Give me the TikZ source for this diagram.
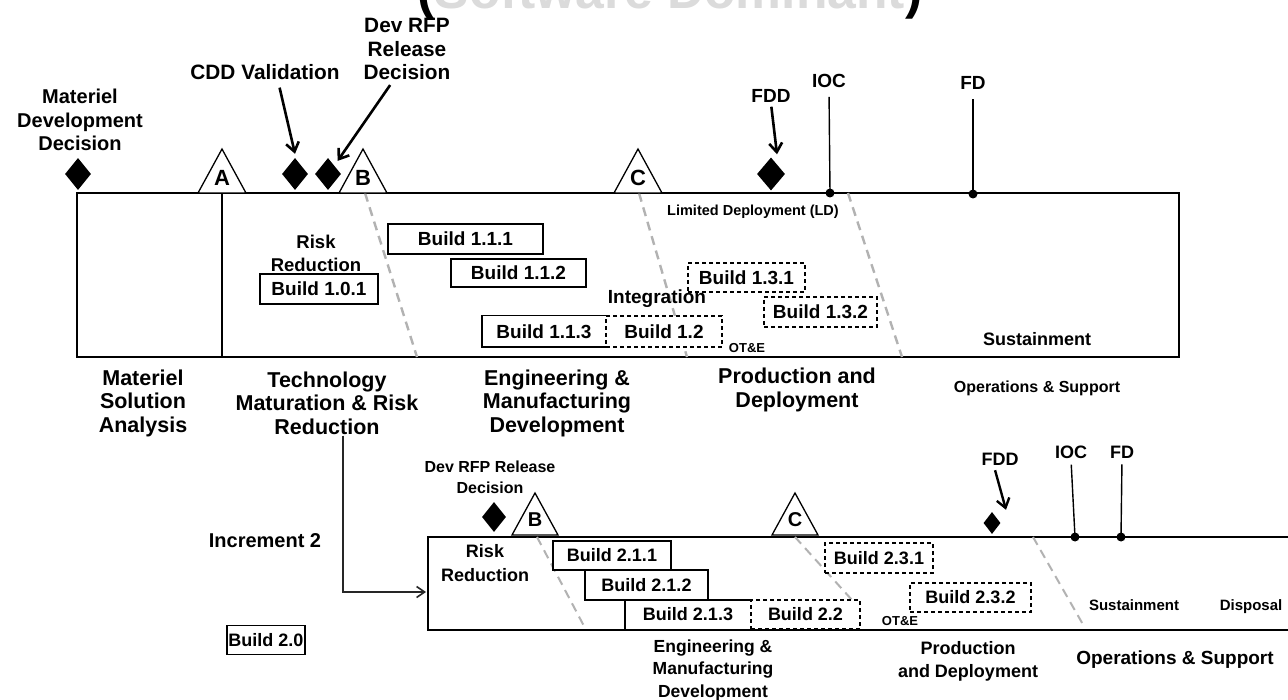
\documentclass[tikz,border=0pt]{standalone}
\usepackage{fontspec}
\setmainfont{Liberation Sans}
\usetikzlibrary{arrows.meta,shapes.geometric}
\newcommand{\mytri}[4]{\draw[tri] (#1-#3,#2) -- (#1,#2-#4) -- (#1+#3,#2) -- cycle;}
\begin{document}
\begin{tikzpicture}[x=1pt,y=-1pt,
  lab/.style={font=\bfseries\fontsize{20}{23.5}\selectfont, align=center, inner sep=1pt},
  phlab/.style={font=\bfseries\fontsize{21.5}{23.5}\selectfont, align=center, inner sep=1pt},
  labm/.style={font=\bfseries\fontsize{18}{22.5}\selectfont, align=center, inner sep=1pt},
  labs/.style={font=\bfseries\fontsize{15}{18}\selectfont, align=center, inner sep=1pt},
  bx/.style={draw, fill=white, line width=1.4pt, font=\bfseries\fontsize{19}{22}\selectfont, inner sep=0pt},
  dbx/.style={bx, dash pattern=on 4pt off 3pt},
  lbx/.style={bx, font=\bfseries\fontsize{18}{21}\selectfont},
  ldbx/.style={lbx, dash pattern=on 4pt off 3pt},
  mainframe/.style={line width=2.6pt},
  phaseline/.style={draw=gray!60, line width=2.4pt, dash pattern=on 9pt off 6pt},
  tri/.style={draw, fill=white, line width=1.3pt, line join=miter},
  trilet/.style={font=\bfseries\fontsize{22}{24}\selectfont, inner sep=0pt},
  dia/.style={diamond, fill=black, inner sep=0pt, minimum width=26pt, minimum height=32pt},
  mdot/.style={circle, fill=black, inner sep=0pt, minimum size=9pt},
  arr/.style={line width=2.6pt, -{Straight Barb[length=9pt,width=13pt]}},
  arrtwo/.style={line width=1.6pt, draw=black!85, -{Straight Barb[length=8pt,width=11pt]}},
  mline/.style={line width=1.4pt}
]
\useasboundingbox (0,0) rectangle (1288,700);
\clip (0,0) rectangle (1288,700);
\fill[white] (0,0) rectangle (1288,700);

% title (clipped at top)
\node[anchor=base, inner sep=0pt, font=\bfseries\fontsize{51.6}{60}\selectfont] (title) at (670,9)
  {(\textcolor{gray!28}{Software Dominant})};

% ===== Increment 1 =====
\draw[mainframe] (77,193) rectangle (1179,357);
\draw[line width=1.3pt] (222,193) -- (222,357);

\draw[phaseline] (365,193) -- (417,357);
\draw[phaseline] (639,193) -- (687,357);
\draw[phaseline] (848,193) -- (902,357);

\mytri{222}{193}{24}{44}
\node[trilet] (ta) at (222,178) {A};
\mytri{363}{193}{24}{44}
\node[trilet] (tb) at (363,178) {B};
\mytri{638}{193}{24}{44}
\node[trilet] (tc) at (638,178) {C};

\node[lab] (mddtxt) at (80,120) {Materiel\\Development\\Decision};
\node[dia] (mdd) at (78,174) {};
\node[lab, font=\bfseries\fontsize{20.8}{23.5}\selectfont] (cddtxt) at (265,72) {CDD Validation};
\node[dia] (cdd) at (295,174) {};
\node[dia] (dev) at (328,174) {};
\node[lab, font=\bfseries\fontsize{20.8}{23.5}\selectfont] (devtxt) at (407,49) {Dev RFP\\Release\\Decision};
\draw[arr, shorten <=7pt] ([xshift=13pt]cddtxt.south) -- ([yshift=4pt]cdd.north);
\draw[arr, shorten <=5pt] ([xshift=-14pt]devtxt.south) -- ([xshift=3pt,yshift=5pt]dev.north east);

\node[lab, font=\bfseries\fontsize{19}{22}\selectfont] (fddtxt) at (771,96) {FDD};
\node[dia, minimum width=28pt, minimum height=33pt] (fdd) at (771,174) {};
\draw[arr, shorten <=3pt] (fddtxt.south) -- ([xshift=6pt,yshift=3pt]fdd.north);

\node[lab, font=\bfseries\fontsize{19}{22}\selectfont] (ioctxt) at (829,81) {IOC};
\node[mdot] (iocdot) at (830,193) {};
\draw[mline, shorten >=8pt] (iocdot.center) -- (ioctxt.south);
\node[lab, font=\bfseries\fontsize{19}{22}\selectfont] (fdtxt) at (973,83) {FD};
\node[mdot] (fddot) at (973,194) {};
\draw[mline, shorten >=8pt] (fddot.center) -- (fdtxt.south);

\node[labs, font=\bfseries\fontsize{14.5}{17}\selectfont] (ldtxt) at (753,212) {Limited Deployment (LD)};

\node[labm, font=\bfseries\fontsize{18.5}{23}\selectfont] (rr1) at (316,253) {Risk\\Reduction};
\node[bx, minimum width=118pt, minimum height=30pt] (b101) at (319,289) {Build 1.0.1};
\node[bx, minimum width=155pt, minimum height=30pt] (b111) at (465.5,239) {Build 1.1.1};
\node[bx, minimum width=135pt, minimum height=28pt] (b112) at (518.5,273) {Build 1.1.2};
\node[inner sep=0pt, fill=white, minimum width=124pt, minimum height=31pt, font=\bfseries\fontsize{19}{22}\selectfont] (b113) at (544,331.5) {Build 1.1.3};
\draw[line width=1.4pt] (b113.north east) -- (b113.north west) -- (b113.south west) -- (b113.south east);
\node[dbx, minimum width=116pt, minimum height=31pt] (b12) at (664,331.5) {Build 1.2};
\node[lab, font=\bfseries\fontsize{19}{22}\selectfont] (integ) at (657,299) {Integration};
\node[labs, font=\bfseries\fontsize{13}{15}\selectfont] (ote1) at (747,348) {OT\&E};
\node[dbx, minimum width=117pt, minimum height=29pt] (b131) at (746.5,277.5) {Build 1.3.1};
\node[dbx, minimum width=113pt, minimum height=30pt] (b132) at (820.5,312) {Build 1.3.2};
\node[lab, font=\bfseries\fontsize{18}{22}\selectfont] (sus1) at (1037,339) {Sustainment};

% phase labels under increment 1
\node[phlab] (msa) at (143,403) {Materiel\\Solution\\Analysis};
\node[phlab] (techtxt) at (327,403) {Technology\\Maturation \& Risk\\Reduction};
\node[phlab] (emd1) at (557,403) {Engineering \&\\Manufacturing\\Development};
\node[phlab] (pd1) at (797,390) {Production and\\Deployment};
\node[lab, font=\bfseries\fontsize{16}{19}\selectfont] (os1) at (1037,388) {Operations \& Support};

% ===== Increment 2 =====
\node[lab] (inc2) at (265,541) {Increment 2};
\coordinate (lbin) at (426,592);
\draw[arrtwo] ([xshift=16pt]techtxt.south) |- (lbin);

\draw[mainframe] (1300,537) -- (428,537) -- (428,630) -- (1300,630);

\draw[phaseline, line width=2pt] (537,537) -- (585,628);
\draw[phaseline, line width=2pt] (795,537) -- (852,600);
\draw[phaseline, line width=2pt] (1033,537) -- (1085,628);

\node[labm, font=\bfseries\fontsize{16}{21}\selectfont] (dev2txt) at (490,477.5) {Dev RFP Release\\Decision};
\node[dia, minimum width=24pt, minimum height=30pt] (dev2) at (494,517) {};
\mytri{535}{535}{23}{42}
\node[trilet, font=\bfseries\fontsize{20}{22}\selectfont] (tb2) at (535,520) {B};
\mytri{795}{535}{23}{42}
\node[trilet, font=\bfseries\fontsize{20}{22}\selectfont] (tc2) at (795,520) {C};

\node[labm, font=\bfseries\fontsize{18}{24}\selectfont] (rr2) at (485,563) {Risk\\Reduction};
\node[lbx, minimum width=118pt, minimum height=29pt] (b211) at (612,555.5) {Build 2.1.1};
\node[lbx, minimum width=123pt, minimum height=30pt] (b212) at (646.5,585) {Build 2.1.2};
\node[inner sep=0pt, fill=white, minimum width=126pt, minimum height=29pt, font=\bfseries\fontsize{18}{21}\selectfont] (b213) at (688,614.5) {Build 2.1.3};
\draw[line width=1.4pt] (b213.north east) -- (b213.north west) -- (b213.south west) -- (b213.south east);
\node[ldbx, minimum width=109pt, minimum height=29pt] (b22) at (805.5,614.5) {Build 2.2};
\node[ldbx, minimum width=108pt, minimum height=30pt] (b231) at (879,558) {Build 2.3.1};
\node[ldbx, minimum width=121pt, minimum height=29pt] (b232) at (970.5,597.5) {Build 2.3.2};
\node[labs, font=\bfseries\fontsize{13}{15}\selectfont] (ote2) at (900,621) {OT\&E};

\node[labm] (fdd2txt) at (1000,459) {FDD};
\node[dia, minimum width=17pt, minimum height=22pt] (fdd2) at (992,523) {};
\draw[arr, line width=2.4pt, shorten <=4pt] ([xshift=-6pt]fdd2txt.south) -- ([xshift=14pt,yshift=2pt]fdd2.north);

\node[labm] (ioc2txt) at (1071,452) {IOC};
\node[mdot] (ioc2dot) at (1075,537) {};
\draw[mline, shorten >=5pt] (ioc2dot.center) -- (ioc2txt.south);
\node[labm] (fd2txt) at (1122,452) {FD};
\node[mdot] (fd2dot) at (1121,537) {};
\draw[mline, shorten >=5pt] (fd2dot.center) -- (fd2txt.south);

\node[labs] (sus2) at (1134,605) {Sustainment};
\node[labs] (disp) at (1251,607) {Disposal};

\node[labm, font=\bfseries\fontsize{17.5}{22.5}\selectfont] (emd2) at (713,670) {Engineering \&\\Manufacturing\\Development};
\node[labm, font=\bfseries\fontsize{18}{23}\selectfont] (pd2) at (968,661.5) {Production\\and Deployment};
\node[labm, font=\bfseries\fontsize{19}{22}\selectfont] (os2) at (1175,660) {Operations \& Support};

\node[lbx, minimum width=78pt, minimum height=29pt] (b20) at (266,640) {Build 2.0};
\end{tikzpicture}
\end{document}
